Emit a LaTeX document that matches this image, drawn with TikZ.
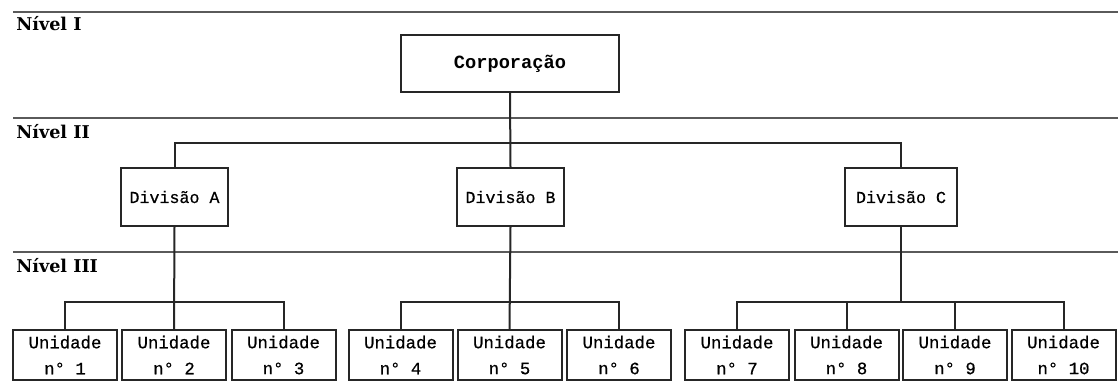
\documentclass[tikz,border=0pt]{standalone}
\usepackage{fontspec}
\setmainfont{DejaVu Serif}
\newfontfamily\boxfont[FakeBold=0.6]{Liberation Mono}
\newfontfamily\corpfont{Liberation Mono Bold}
\usetikzlibrary{positioning}
\definecolor{rulegray}{HTML}{5A5A5A}
\definecolor{inkdark}{HTML}{262626}

\begin{document}
\begin{tikzpicture}[x=0.75pt,y=-0.75pt,
  nivel/.style={anchor=base west,inner sep=0pt,font=\bfseries\fontsize{13.2}{15}\selectfont},
  faixa/.style={draw=rulegray,line width=2pt},
  caixa/.style={draw=inkdark,fill=white,line width=1.5pt,align=center,inner sep=0pt},
  corpbox/.style={caixa,minimum width=163pt,minimum height=43pt,font=\corpfont\fontsize{14}{16}\selectfont},
  divbox/.style={caixa,minimum width=80pt,minimum height=43.5pt,font=\boxfont\fontsize{12.5}{15}\selectfont},
  unibox/.style={caixa,minimum width=78pt,minimum height=37.5pt,font=\boxfont\fontsize{13}{19.5}\selectfont},
  link/.style={draw=inkdark,line width=1.5pt}]
\useasboundingbox (0,0) rectangle (1118,388);

% faixas dos niveis
\draw[faixa] (13,12) -- (1118,12);
\draw[faixa] (13,118) -- (1118,118);
\draw[faixa] (13,252) -- (1118,252);
\node[nivel] (nI) at (16,31) {Nível I};
\node[nivel] (nII) at (16,139) {Nível II};
\node[nivel] (nIII) at (16,273) {Nível III};

% caixas
\node[corpbox] (corp) at (510,63.5) {Corporação};
\node[divbox] (divA) at (174.5,197) {Divisão A};
\node[divbox] (divB) at (510.5,197) {Divisão B};
\node[divbox,minimum width=84pt] (divC) at (901,197) {Divisão C};
\foreach \i/\x in {1/65,2/174,3/283.5,4/400.5,5/509.5,6/619,7/737,8/846.5,9/955,10/1063.5}
  \node[unibox] (u\i) at (\x,355) {Unidade\\n° \i};

% ligacoes
\coordinate (barII) at (510.5,143);
\coordinate (tA) at (174,302);
\coordinate (tB) at (510,302);
\coordinate (tC) at (901,302);
\draw[link] (corp.south) -- (divB.north);
\draw[link] (divA.north) |- (barII) -| (divC.north);
\draw[link] (divA.south) -- (u2.north);
\draw[link] (u1.north) |- (tA) -| (u3.north);
\draw[link] (divB.south) -- (u5.north);
\draw[link] (u4.north) |- (tB) -| (u6.north);
\draw[link] (divC.south) -- (tC);
\draw[link] (u7.north) |- (tC) -| (u10.north);
\draw[link] (u8.north) -- (u8.north |- tC);
\draw[link] (u9.north) -- (u9.north |- tC);
\end{tikzpicture}
\end{document}
